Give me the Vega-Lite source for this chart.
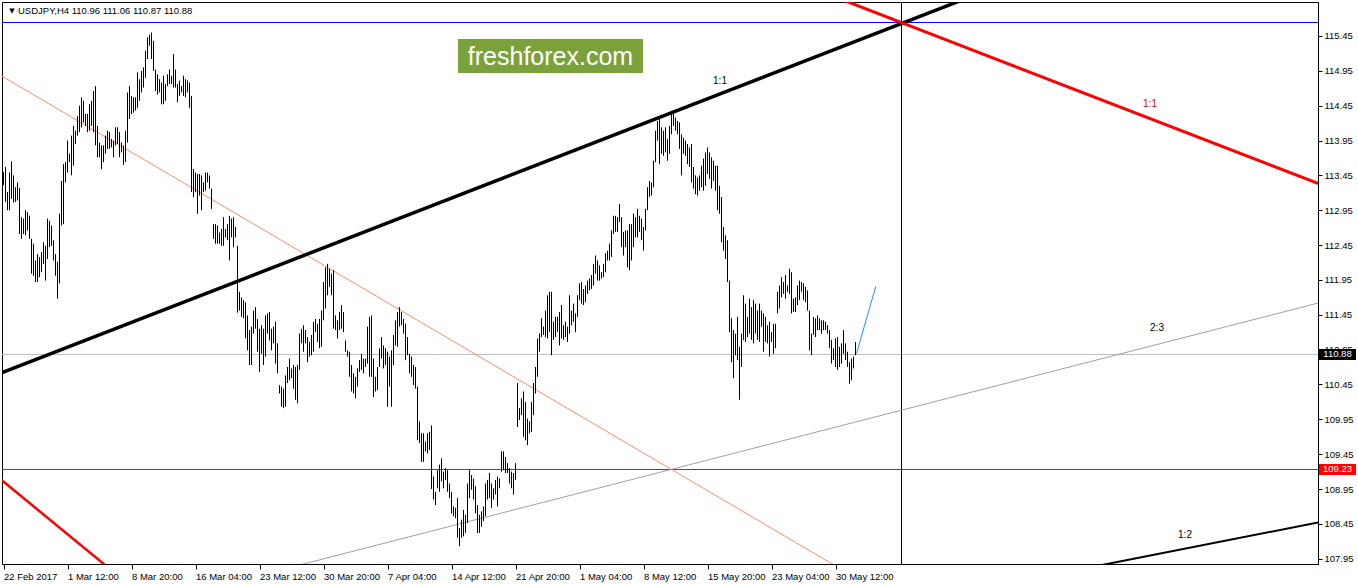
{
"$schema": "https://vega.github.io/schema/vega-lite/v6.json",
"width": 1316, "height": 562,
"autosize": {"type": "none"},
"padding": {"left": 2, "top": 2, "right": 40, "bottom": 20},
"background": "white",
"config": {"view": {"stroke": "black", "strokeWidth": 1}, "font": "Liberation Sans"},
"datasets": {
"bars": [
{"i":0,"p":113.50,"l":113.31},{"i":1,"p":113.57,"l":113.07},{"i":2,"p":113.21,"l":112.95},{"i":3,"p":113.49,"l":112.95},{"i":4,"p":113.65,"l":113.11},{"i":5,"p":113.45,"l":113.06},{"i":6,"p":113.28,"l":113.07},{"i":7,"p":113.35,"l":113.09},{"i":8,"p":113.27,"l":112.61},{"i":9,"p":112.85,"l":112.54},
{"i":10,"p":112.83,"l":112.61},{"i":11,"p":112.95,"l":112.59},{"i":12,"p":112.92,"l":112.66},{"i":13,"p":112.87,"l":112.54},{"i":14,"p":112.54,"l":112.04},{"i":15,"p":112.47,"l":112.01},{"i":16,"p":112.23,"l":111.92},{"i":17,"p":112.32,"l":111.92},{"i":18,"p":112.28,"l":111.99},{"i":19,"p":112.35,"l":112.06},
{"i":20,"p":112.49,"l":112.18},{"i":21,"p":112.44,"l":111.94},{"i":22,"p":112.83,"l":112.25},{"i":23,"p":112.80,"l":112.42},{"i":24,"p":112.73,"l":112.44},{"i":25,"p":112.52,"l":112.23},{"i":26,"p":112.32,"l":112.01},{"i":27,"p":112.21,"l":111.68},{"i":28,"p":112.90,"l":111.90},{"i":29,"p":113.37,"l":112.73},
{"i":30,"p":113.61,"l":112.75},{"i":31,"p":113.64,"l":113.35},{"i":32,"p":113.95,"l":113.49},{"i":33,"p":113.76,"l":113.64},{"i":34,"p":114.02,"l":113.45},{"i":35,"p":114.16,"l":113.59},{"i":36,"p":114.09,"l":113.90},{"i":37,"p":114.30,"l":114.02},{"i":38,"p":114.45,"l":114.07},{"i":39,"p":114.57,"l":114.14},
{"i":40,"p":114.52,"l":114.21},{"i":41,"p":114.33,"l":114.16},{"i":42,"p":114.33,"l":114.07},{"i":43,"p":114.47,"l":114.09},{"i":44,"p":114.52,"l":114.16},{"i":45,"p":114.66,"l":114.07},{"i":46,"p":114.73,"l":113.88},{"i":47,"p":114.16,"l":113.71},{"i":48,"p":113.92,"l":113.71},{"i":49,"p":113.88,"l":113.54},
{"i":50,"p":113.88,"l":113.64},{"i":51,"p":114.02,"l":113.76},{"i":52,"p":114.09,"l":113.83},{"i":53,"p":114.07,"l":113.83},{"i":54,"p":113.97,"l":113.85},{"i":55,"p":113.95,"l":113.71},{"i":56,"p":114.14,"l":113.88},{"i":57,"p":114.14,"l":113.90},{"i":58,"p":114.07,"l":113.71},{"i":59,"p":113.92,"l":113.78},
{"i":60,"p":113.88,"l":113.60},{"i":61,"p":114.09,"l":113.64},{"i":62,"p":114.64,"l":113.92},{"i":63,"p":114.73,"l":114.26},{"i":64,"p":114.59,"l":114.33},{"i":65,"p":114.57,"l":114.35},{"i":66,"p":114.57,"l":114.38},{"i":67,"p":114.93,"l":114.42},{"i":68,"p":114.83,"l":114.52},{"i":69,"p":114.95,"l":114.64},
{"i":70,"p":115.00,"l":114.71},{"i":71,"p":115.24,"l":114.85},{"i":72,"p":115.43,"l":115.12},{"i":73,"p":115.47,"l":115.31},{"i":74,"p":115.50,"l":115.12},{"i":75,"p":115.38,"l":114.95},{"i":76,"p":114.97,"l":114.66},{"i":77,"p":114.90,"l":114.61},{"i":78,"p":114.83,"l":114.64},{"i":79,"p":114.78,"l":114.47},
{"i":80,"p":114.88,"l":114.47},{"i":81,"p":114.76,"l":114.52},{"i":82,"p":114.90,"l":114.73},{"i":83,"p":114.97,"l":114.76},{"i":84,"p":114.88,"l":114.76},{"i":85,"p":115.19,"l":114.71},{"i":86,"p":114.97,"l":114.71},{"i":87,"p":114.76,"l":114.50},{"i":88,"p":114.81,"l":114.59},{"i":89,"p":114.73,"l":114.64},
{"i":90,"p":114.88,"l":114.59},{"i":91,"p":114.83,"l":114.57},{"i":92,"p":114.81,"l":114.64},{"i":93,"p":114.78,"l":114.42},{"i":94,"p":114.59,"l":113.21},{"i":95,"p":113.54,"l":113.14},{"i":96,"p":113.49,"l":113.21},{"i":97,"p":113.47,"l":112.90},{"i":98,"p":113.47,"l":113.16},{"i":99,"p":113.45,"l":112.95},
{"i":100,"p":113.35,"l":113.21},{"i":101,"p":113.49,"l":113.23},{"i":102,"p":113.49,"l":113.35},{"i":103,"p":113.45,"l":113.26},{"i":104,"p":113.26,"l":112.97},{"i":105,"p":112.75,"l":112.54},{"i":106,"p":112.75,"l":112.47},{"i":107,"p":112.73,"l":112.47},{"i":108,"p":112.63,"l":112.47},{"i":109,"p":112.68,"l":112.44},
{"i":110,"p":112.85,"l":112.44},{"i":111,"p":112.68,"l":112.56},{"i":112,"p":112.75,"l":112.52},{"i":113,"p":112.87,"l":112.23},{"i":114,"p":112.83,"l":112.56},{"i":115,"p":112.85,"l":112.42},{"i":116,"p":112.71,"l":112.56},{"i":117,"p":112.44,"l":111.48},{"i":118,"p":111.78,"l":111.51},{"i":119,"p":111.70,"l":111.42},
{"i":120,"p":111.66,"l":111.40},{"i":121,"p":111.63,"l":111.11},{"i":122,"p":111.44,"l":110.94},{"i":123,"p":111.23,"l":110.73},{"i":124,"p":111.28,"l":110.73},{"i":125,"p":111.51,"l":111.18},{"i":126,"p":111.56,"l":111.25},{"i":127,"p":111.39,"l":110.92},{"i":128,"p":111.25,"l":110.63},{"i":129,"p":111.30,"l":110.89},
{"i":130,"p":111.25,"l":110.73},{"i":131,"p":111.44,"l":110.85},{"i":132,"p":111.47,"l":111.18},{"i":133,"p":111.49,"l":111.08},{"i":134,"p":111.25,"l":110.94},{"i":135,"p":111.28,"l":111.04},{"i":136,"p":111.35,"l":110.75},{"i":137,"p":111.04,"l":110.61},{"i":138,"p":110.44,"l":110.32},{"i":139,"p":110.42,"l":110.13},
{"i":140,"p":110.39,"l":110.11},{"i":141,"p":110.58,"l":110.13},{"i":142,"p":110.70,"l":110.47},{"i":143,"p":110.82,"l":110.51},{"i":144,"p":110.68,"l":110.54},{"i":145,"p":110.73,"l":110.39},{"i":146,"p":110.70,"l":110.23},{"i":147,"p":110.73,"l":110.18},{"i":148,"p":111.18,"l":110.66},{"i":149,"p":111.25,"l":111.04},
{"i":150,"p":111.30,"l":110.92},{"i":151,"p":111.23,"l":111.04},{"i":152,"p":111.13,"l":110.77},{"i":153,"p":111.06,"l":110.85},{"i":154,"p":111.16,"l":110.87},{"i":155,"p":111.35,"l":110.92},{"i":156,"p":111.39,"l":111.20},{"i":157,"p":111.32,"l":111.06},{"i":158,"p":111.39,"l":110.97},{"i":159,"p":111.51,"l":110.99},
{"i":160,"p":111.92,"l":111.37},{"i":161,"p":112.13,"l":111.54},{"i":162,"p":112.18,"l":111.73},{"i":163,"p":112.11,"l":111.85},{"i":164,"p":112.04,"l":111.73},{"i":165,"p":112.09,"l":111.25},{"i":166,"p":111.44,"l":111.23},{"i":167,"p":111.37,"l":111.11},{"i":168,"p":111.49,"l":111.23},{"i":169,"p":111.59,"l":111.25},
{"i":170,"p":111.49,"l":111.20},{"i":171,"p":111.08,"l":110.92},{"i":172,"p":110.94,"l":110.85},{"i":173,"p":110.92,"l":110.56},{"i":174,"p":110.73,"l":110.35},{"i":175,"p":110.61,"l":110.32},{"i":176,"p":110.56,"l":110.25},{"i":177,"p":110.68,"l":110.42},{"i":178,"p":110.80,"l":110.63},{"i":179,"p":110.89,"l":110.66},
{"i":180,"p":110.82,"l":110.61},{"i":181,"p":110.82,"l":110.70},{"i":182,"p":111.28,"l":110.75},{"i":183,"p":111.42,"l":110.56},{"i":184,"p":111.44,"l":110.56},{"i":185,"p":110.82,"l":110.27},{"i":186,"p":110.56,"l":110.35},{"i":187,"p":110.70,"l":110.37},{"i":188,"p":110.97,"l":110.70},{"i":189,"p":111.13,"l":110.82},
{"i":190,"p":111.01,"l":110.68},{"i":191,"p":110.97,"l":110.73},{"i":192,"p":110.92,"l":110.13},{"i":193,"p":110.85,"l":110.42},{"i":194,"p":110.94,"l":110.13},{"i":195,"p":111.16,"l":110.73},{"i":196,"p":111.37,"l":111.01},{"i":197,"p":111.49,"l":110.99},{"i":198,"p":111.56,"l":111.28},{"i":199,"p":111.49,"l":111.30},
{"i":200,"p":111.39,"l":111.18},{"i":201,"p":111.32,"l":110.80},{"i":202,"p":111.13,"l":110.87},{"i":203,"p":110.89,"l":110.61},{"i":204,"p":110.85,"l":110.56},{"i":205,"p":110.73,"l":110.44},{"i":206,"p":110.70,"l":110.39},{"i":207,"p":110.42,"l":109.65},{"i":208,"p":109.92,"l":109.61},{"i":209,"p":109.75,"l":109.34},
{"i":210,"p":109.75,"l":109.34},{"i":211,"p":109.63,"l":109.49},{"i":212,"p":109.75,"l":109.46},{"i":213,"p":109.77,"l":109.51},{"i":214,"p":109.86,"l":108.95},{"i":215,"p":109.13,"l":108.80},{"i":216,"p":108.91,"l":108.72},{"i":217,"p":109.22,"l":108.96},{"i":218,"p":109.30,"l":108.91},{"i":219,"p":109.39,"l":109.06},
{"i":220,"p":109.20,"l":108.96},{"i":221,"p":109.25,"l":109.08},{"i":222,"p":109.22,"l":108.91},{"i":223,"p":109.03,"l":108.82},{"i":224,"p":108.91,"l":108.60},{"i":225,"p":108.70,"l":108.56},{"i":226,"p":108.68,"l":108.53},{"i":227,"p":108.82,"l":108.25},{"i":228,"p":108.39,"l":108.13},{"i":229,"p":108.51,"l":108.25},
{"i":230,"p":108.65,"l":108.27},{"i":231,"p":108.58,"l":108.32},{"i":232,"p":109.03,"l":108.46},{"i":233,"p":109.22,"l":108.82},{"i":234,"p":109.15,"l":108.94},{"i":235,"p":109.10,"l":108.80},{"i":236,"p":108.99,"l":108.60},{"i":237,"p":108.72,"l":108.32},{"i":238,"p":108.58,"l":108.32},{"i":239,"p":108.63,"l":108.41},
{"i":240,"p":108.70,"l":108.49},{"i":241,"p":109.03,"l":108.56},{"i":242,"p":109.08,"l":108.80},{"i":243,"p":109.18,"l":108.82},{"i":244,"p":109.03,"l":108.68},{"i":245,"p":108.96,"l":108.80},{"i":246,"p":109.08,"l":108.87},{"i":247,"p":109.13,"l":108.70},{"i":248,"p":109.10,"l":108.96},{"i":249,"p":109.49,"l":109.20},
{"i":250,"p":109.49,"l":109.22},{"i":251,"p":109.41,"l":109.18},{"i":252,"p":109.32,"l":109.18},{"i":253,"p":109.25,"l":109.03},{"i":254,"p":109.20,"l":108.96},{"i":255,"p":109.18,"l":108.87},{"i":256,"p":109.32,"l":109.08},{"i":257,"p":110.47,"l":109.84},{"i":258,"p":110.11,"l":109.94},{"i":259,"p":110.25,"l":110.01},
{"i":260,"p":110.35,"l":109.70},{"i":261,"p":110.20,"l":109.65},{"i":262,"p":109.96,"l":109.58},{"i":263,"p":109.92,"l":109.75},{"i":264,"p":110.20,"l":109.77},{"i":265,"p":110.47,"l":110.01},{"i":266,"p":110.70,"l":110.32},{"i":267,"p":111.11,"l":110.56},{"i":268,"p":111.18,"l":110.92},{"i":269,"p":111.40,"l":111.13},
{"i":270,"p":111.28,"l":111.16},{"i":271,"p":111.51,"l":111.13},{"i":272,"p":111.73,"l":111.11},{"i":273,"p":111.78,"l":111.20},{"i":274,"p":111.78,"l":110.87},{"i":275,"p":111.35,"l":111.09},{"i":276,"p":111.42,"l":111.13},{"i":277,"p":111.42,"l":111.20},{"i":278,"p":111.49,"l":111.01},{"i":279,"p":111.59,"l":111.11},
{"i":280,"p":111.30,"l":111.09},{"i":281,"p":111.35,"l":111.13},{"i":282,"p":111.28,"l":111.06},{"i":283,"p":111.73,"l":111.18},{"i":284,"p":111.51,"l":111.30},{"i":285,"p":111.61,"l":111.35},{"i":286,"p":111.47,"l":111.20},{"i":287,"p":111.73,"l":111.42},{"i":288,"p":111.90,"l":111.66},{"i":289,"p":111.92,"l":111.61},
{"i":290,"p":111.82,"l":111.59},{"i":291,"p":111.87,"l":111.63},{"i":292,"p":111.94,"l":111.75},{"i":293,"p":111.97,"l":111.80},{"i":294,"p":112.02,"l":111.82},{"i":295,"p":112.18,"l":111.87},{"i":296,"p":112.30,"l":112.04},{"i":297,"p":112.23,"l":111.94},{"i":298,"p":112.16,"l":111.94},{"i":299,"p":112.06,"l":111.97},
{"i":300,"p":112.18,"l":111.99},{"i":301,"p":112.33,"l":112.06},{"i":302,"p":112.37,"l":112.23},{"i":303,"p":112.47,"l":112.23},{"i":304,"p":112.66,"l":112.28},{"i":305,"p":112.87,"l":112.61},{"i":306,"p":112.87,"l":112.64},{"i":307,"p":112.85,"l":112.64},{"i":308,"p":113.04,"l":112.78},{"i":309,"p":112.85,"l":112.42},
{"i":310,"p":112.64,"l":112.30},{"i":311,"p":112.66,"l":112.42},{"i":312,"p":112.66,"l":112.13},{"i":313,"p":112.75,"l":112.09},{"i":314,"p":112.75,"l":112.23},{"i":315,"p":112.90,"l":112.42},{"i":316,"p":112.85,"l":112.56},{"i":317,"p":112.97,"l":112.56},{"i":318,"p":112.87,"l":112.64},{"i":319,"p":112.83,"l":112.52},
{"i":320,"p":112.71,"l":112.37},{"i":321,"p":112.97,"l":112.66},{"i":322,"p":113.28,"l":112.95},{"i":323,"p":113.37,"l":113.14},{"i":324,"p":113.35,"l":113.16},{"i":325,"p":113.66,"l":113.28},{"i":326,"p":114.09,"l":113.64},{"i":327,"p":114.23,"l":113.95},{"i":328,"p":114.26,"l":113.61},{"i":329,"p":114.14,"l":113.76},
{"i":330,"p":114.09,"l":113.73},{"i":331,"p":114.14,"l":113.78},{"i":332,"p":113.97,"l":113.66},{"i":333,"p":114.16,"l":113.76},{"i":334,"p":114.35,"l":114.04},{"i":335,"p":114.33,"l":114.16},{"i":336,"p":114.28,"l":114.09},{"i":337,"p":114.23,"l":114.04},{"i":338,"p":114.21,"l":113.83},{"i":339,"p":114.04,"l":113.45},
{"i":340,"p":113.99,"l":113.76},{"i":341,"p":113.95,"l":113.73},{"i":342,"p":113.90,"l":113.61},{"i":343,"p":113.85,"l":113.57},{"i":344,"p":113.90,"l":113.35},{"i":345,"p":113.57,"l":113.26},{"i":346,"p":113.45,"l":113.18},{"i":347,"p":113.42,"l":113.16},{"i":348,"p":113.45,"l":113.23},{"i":349,"p":113.59,"l":113.28},
{"i":350,"p":113.69,"l":113.23},{"i":351,"p":113.78,"l":113.30},{"i":352,"p":113.85,"l":113.47},{"i":353,"p":113.78,"l":113.40},{"i":354,"p":113.71,"l":113.26},{"i":355,"p":113.66,"l":113.37},{"i":356,"p":113.59,"l":113.23},{"i":357,"p":113.59,"l":112.95},{"i":358,"p":113.30,"l":112.90},{"i":359,"p":113.14,"l":112.49},
{"i":360,"p":112.71,"l":112.37},{"i":361,"p":112.59,"l":112.25},{"i":362,"p":112.52,"l":111.92},{"i":363,"p":111.94,"l":111.20},{"i":364,"p":111.40,"l":110.77},{"i":365,"p":111.23,"l":110.54},{"i":366,"p":111.18,"l":110.87},{"i":367,"p":111.42,"l":110.80},{"i":368,"p":110.99,"l":110.23},{"i":369,"p":111.18,"l":110.70},
{"i":370,"p":111.73,"l":111.09},{"i":371,"p":111.61,"l":111.06},{"i":372,"p":111.42,"l":111.13},{"i":373,"p":111.68,"l":111.18},{"i":374,"p":111.56,"l":111.09},{"i":375,"p":111.66,"l":111.04},{"i":376,"p":111.61,"l":111.18},{"i":377,"p":111.51,"l":111.09},{"i":378,"p":111.61,"l":111.06},{"i":379,"p":111.51,"l":111.28},
{"i":380,"p":111.47,"l":110.92},{"i":381,"p":111.42,"l":111.06},{"i":382,"p":111.30,"l":111.04},{"i":383,"p":111.35,"l":110.85},{"i":384,"p":111.20,"l":111.06},{"i":385,"p":111.32,"l":110.89},{"i":386,"p":111.32,"l":110.97},{"i":387,"p":111.78,"l":111.47},{"i":388,"p":111.87,"l":111.54},{"i":389,"p":111.99,"l":111.70},
{"i":390,"p":111.92,"l":111.75},{"i":391,"p":112.02,"l":111.68},{"i":392,"p":111.87,"l":111.78},{"i":393,"p":112.11,"l":111.75},{"i":394,"p":112.06,"l":111.47},{"i":395,"p":111.68,"l":111.49},{"i":396,"p":111.70,"l":111.49},{"i":397,"p":111.87,"l":111.59},{"i":398,"p":111.94,"l":111.66},{"i":399,"p":111.92,"l":111.78},
{"i":400,"p":111.90,"l":111.66},{"i":401,"p":111.85,"l":111.63},{"i":402,"p":111.80,"l":111.51},{"i":403,"p":111.51,"l":110.94},{"i":404,"p":111.18,"l":110.87},{"i":405,"p":111.42,"l":111.16},{"i":406,"p":111.40,"l":111.13},{"i":407,"p":111.44,"l":111.23},{"i":408,"p":111.40,"l":111.23},{"i":409,"p":111.37,"l":111.18},
{"i":410,"p":111.37,"l":111.23},{"i":411,"p":111.35,"l":111.23},{"i":412,"p":111.30,"l":111.18},{"i":413,"p":111.23,"l":110.97},{"i":414,"p":111.09,"l":110.75},{"i":415,"p":110.97,"l":110.80},{"i":416,"p":111.11,"l":110.70},{"i":417,"p":111.13,"l":110.66},{"i":418,"p":110.99,"l":110.70},{"i":419,"p":111.04,"l":110.75},
{"i":420,"p":111.23,"l":110.89},{"i":421,"p":111.04,"l":110.80},{"i":422,"p":110.92,"l":110.70},{"i":423,"p":110.77,"l":110.46},{"i":424,"p":110.82,"l":110.51},{"i":425,"p":110.85,"l":110.68},{"i":426,"p":111.06,"l":110.87}
]
},
"encoding": {
  "x": {"field": "i", "type": "quantitative", "title": null, "scale": {"domain": [-0.75, 657.25], "nice": false, "zero": false},
        "axis": {"values": [0,32,64,96,128,160,192,224,256,288,320,352,384,416],
                 "labelExpr": "['22 Feb 2017','1 Mar 12:00','8 Mar 20:00','16 Mar 04:00','23 Mar 12:00','30 Mar 20:00','7 Apr 04:00','14 Apr 12:00','21 Apr 20:00','1 May 04:00','8 May 12:00','15 May 20:00','23 May 04:00','30 May 12:00'][round(datum.value/32)]",
                 "title": null, "grid": false, "domainColor": "#000000", "tickColor": "#000000", "tickSize": 5, "labelAlign": "left", "labelBaseline": "top", "labelPadding": 2, "labelFontSize": 9.5, "labelFont": "Liberation Sans", "labelColor": "#000000", "labelOverlap": false, "labelFlush": false, "labelBound": false}},
  "y": {"field": "p", "type": "quantitative", "title": null, "scale": {"domain": [107.874, 115.9376], "nice": false, "zero": false},
        "axis": {"orient": "right", "values": [107.95,108.45,108.95,109.45,109.95,110.45,110.95,111.45,111.95,112.45,112.95,113.45,113.95,114.45,114.95,115.45], "format": ".2f",
                 "title": null, "grid": false, "domainColor": "#000000", "tickColor": "#000000", "tickSize": 4, "labelPadding": 2, "labelFontSize": 9.5, "labelFont": "Liberation Sans", "labelColor": "#000000", "labelOverlap": false, "labelFlush": false, "labelBound": false}}
},
"layer": [
{"data": {"values": [{"i": -2, "p": 115.6435}, {"i": 660, "p": 115.6435}]}, "mark": {"type": "line", "clip": true, "color": "#0000ff", "strokeWidth": 1}},
{"data": {"values": [{"i": -2, "p": 110.88}, {"i": 660, "p": 110.88}]}, "mark": {"type": "line", "clip": true, "color": "#c0c0c0", "strokeWidth": 1}},
{"data": {"values": [{"i": -2, "p": 109.23}, {"i": 660, "p": 109.23}]}, "mark": {"type": "line", "clip": true, "color": "#ff0000", "strokeWidth": 1}},
{"data": {"values": [{"i": 449, "p": 107.5}, {"i": 449, "p": 116.5}]}, "mark": {"type": "line", "clip": true, "color": "#000000", "strokeWidth": 1}},
{"data": {"values": [{"i": -1.5, "p": 114.886}, {"i": 419.5, "p": 107.789}]}, "mark": {"type": "line", "clip": true, "color": "#ff8c69", "strokeWidth": 1}},
{"data": {"values": [{"i": 148.5, "p": 107.863}, {"i": 658.5, "p": 111.627}]}, "mark": {"type": "line", "clip": true, "color": "#a0a0a0", "strokeWidth": 1}},
{"data": {"name": "bars"}, "mark": {"type": "rule", "color": "#000000", "strokeWidth": 1}, "encoding": {"y2": {"field": "l"}}},
{"data": {"values": [{"i": -1.5, "p": 110.612}, {"i": 478.5, "p": 115.957}]}, "mark": {"type": "line", "clip": true, "color": "#000000", "strokeWidth": 3.5}},
{"data": {"values": [{"i": 418.5, "p": 115.98}, {"i": 658.5, "p": 113.32}]}, "mark": {"type": "line", "clip": true, "color": "#ff0000", "strokeWidth": 3}},
{"data": {"values": [{"i": -1.5, "p": 109.09}, {"i": 53.5, "p": 107.796}]}, "mark": {"type": "line", "clip": true, "color": "#ff0000", "strokeWidth": 2.5}},
{"data": {"values": [{"i": 547.5, "p": 107.85}, {"i": 658.5, "p": 108.476}]}, "mark": {"type": "line", "clip": true, "color": "#000000", "strokeWidth": 2}},
{"data": {"values": [{"i": 426.5, "p": 110.894}, {"i": 436.15, "p": 111.858}]}, "mark": {"type": "line", "clip": true, "color": "#1e90ff", "strokeWidth": 1}},
{"data": {"values": [{"i": 227.25, "i2": 319.75, "p": 115.407, "p2": 114.92}]}, "mark": {"type": "rect", "color": "#7ba23a"}, "encoding": {"x2": {"field": "i2"}, "y2": {"field": "p2"}}},
{"data": {"values": [{"i": 273.5, "p": 115.149, "t": "freshforex.com"}]}, "mark": {"type": "text", "color": "#ffffff", "fontSize": 25, "font": "Liberation Sans", "align": "center", "baseline": "middle"}, "encoding": {"text": {"field": "t"}}},
{"data": {"values": [{"i": 7.25, "p": 115.807, "t": "USDJPY,H4  110.96 111.06 110.87 110.88"}]}, "mark": {"type": "text", "color": "#000000", "fontSize": 9.5, "font": "Liberation Sans", "align": "left", "baseline": "middle"}, "encoding": {"text": {"field": "t"}}},
{"data": {"values": [{"i": 4.25, "p": 115.807, "t": "▼"}]}, "mark": {"type": "text", "color": "#000000", "fontSize": 7, "font": "DejaVu Sans", "align": "center", "baseline": "middle"}, "encoding": {"text": {"field": "t"}}},
{"data": {"values": [{"i": 358.25, "p": 114.806, "t": "1:1"}, {"i": 576.75, "p": 111.256, "t": "2:3"}, {"i": 590.75, "p": 108.294, "t": "1:2"}]}, "mark": {"type": "text", "color": "#000000", "fontSize": 10, "font": "Liberation Sans", "align": "center", "baseline": "middle"}, "encoding": {"text": {"field": "t"}}},
{"data": {"values": [{"i": 573.25, "p": 114.476, "t": "1:1"}]}, "mark": {"type": "text", "color": "#dd0000", "fontSize": 10, "font": "Liberation Sans", "align": "center", "baseline": "middle"}, "encoding": {"text": {"field": "t"}}},
{"data": {"values": [{"i": 657.75, "i2": 676.25, "p": 110.96, "p2": 110.8, "c": "#000000"}, {"i": 657.75, "i2": 676.25, "p": 109.31, "p2": 109.15, "c": "#ff0000"}]}, "mark": {"type": "rect", "clip": false},
 "encoding": {"x2": {"field": "i2"}, "y2": {"field": "p2"}, "color": {"field": "c", "type": "nominal", "scale": null, "legend": null}}},
{"data": {"values": [{"i": 667, "p": 110.88, "t": "110.88"}, {"i": 667, "p": 109.23, "t": "109.23"}]}, "mark": {"type": "text", "color": "#ffffff", "fontSize": 9.5, "font": "Liberation Sans", "align": "center", "baseline": "middle"}, "encoding": {"text": {"field": "t"}}}
]
}
